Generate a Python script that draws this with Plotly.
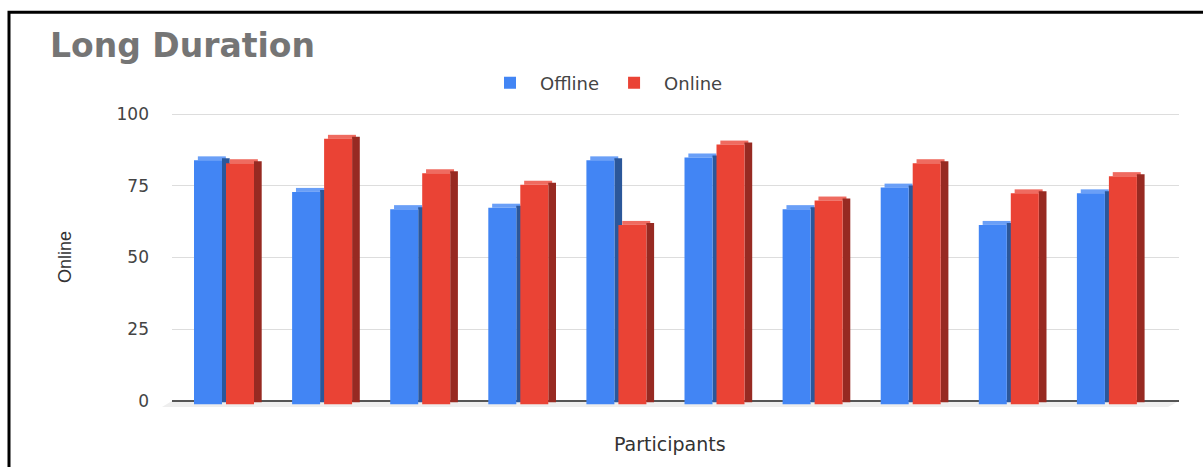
import plotly.graph_objects as go

# ---- data ----
participants = list(range(1, 11))
offline = [85, 74, 68, 68.5, 85, 86, 68, 75.5, 62.5, 73.5]
online = [84, 92.5, 80.5, 76.5, 62.5, 90.5, 71, 84, 73.5, 79.5]
y_ticks = [0, 25, 50, 75, 100]
series_names = ["Offline", "Online"]

# ---- styling constants ----
W, H = 1203, 467
ML, MR, MT, MB = 172, 24, 105, 57
PX_PER_CAT = 98.1
PX_PER_UNIT = 2.87
FRONT_W = 28 / PX_PER_CAT
DEPTH_X = 7.7 / PX_PER_CAT
DEPTH_Y = 4.0 / PX_PER_UNIT
FRONT_BASE = -3.3 / PX_PER_UNIT
OFFSETS = [-30 / PX_PER_CAT, 2 / PX_PER_CAT]
COLORS = {
    "Offline": dict(front="#4285F4", side="#2B579A", top="#6A9FF7"),
    "Online": dict(front="#EA4335", side="#972A22", top="#EF6B60"),
}

pw = W - ML - MR
ph = H - MT - MB
y_lo = -(410 - 401) / PX_PER_UNIT
y_hi = 100 + (114 - MT) / PX_PER_UNIT
x_lo = -(224 - ML) / PX_PER_CAT
x_hi = x_lo + pw / PX_PER_CAT


def px_x(px):
    return (px - ML) / pw


def px_y(py):
    return (H - MB - py) / ph


xs = [p - 1 for p in participants]
fig = go.Figure()
for name, vals, off in zip(series_names, [offline, online], OFFSETS):
    c = COLORS[name]
    # top face
    fig.add_trace(go.Bar(
        x=xs, y=[DEPTH_Y] * len(vals), base=[v + FRONT_BASE for v in vals],
        offset=off + DEPTH_X / 2, width=FRONT_W, marker=dict(color=c["top"], line_width=0),
        showlegend=False, hoverinfo="skip"))
    # side face
    fig.add_trace(go.Bar(
        x=xs, y=vals, base=[FRONT_BASE + DEPTH_Y / 2] * len(vals),
        offset=off + FRONT_W, width=DEPTH_X, marker=dict(color=c["side"], line_width=0),
        showlegend=False, hoverinfo="skip"))
    # front face
    fig.add_trace(go.Bar(
        x=xs, y=vals, base=[FRONT_BASE] * len(vals), name=name,
        offset=off, width=FRONT_W, marker=dict(color=c["front"], line_width=0)))

# floor band
fig.add_shape(type="path", xref="paper", yref="y",
              path=f"M {px_x(172)},0 L {px_x(1179)},0 L {px_x(1168)},{-6 / PX_PER_UNIT} "
                   f"L {px_x(162)},{-6 / PX_PER_UNIT} Z",
              fillcolor="#EEEEEE", line_width=0, layer="below")
# outer frame
fig.add_shape(type="rect", xref="paper", yref="paper",
              x0=px_x(9), x1=px_x(1215), y0=px_y(480), y1=px_y(12.3),
              line=dict(color="black", width=3), fillcolor="rgba(0,0,0,0)")

fig.add_annotation(text="<b>Long Duration</b>", xref="paper", yref="paper",
                   x=px_x(48), y=px_y(46), xanchor="left", yanchor="middle", showarrow=False,
                   font=dict(family="DejaVu Sans", size=33, color="#757575"))
fig.add_annotation(text="Participants", xref="paper", yref="paper",
                   x=px_x(670), y=px_y(444), xanchor="center", yanchor="middle", showarrow=False,
                   font=dict(family="DejaVu Sans", size=19, color="#333333"))
fig.add_annotation(text="Online", xref="paper", yref="paper", textangle=-90,
                   x=px_x(65), y=px_y(257), xanchor="center", yanchor="middle", showarrow=False,
                   font=dict(family="Liberation Sans Narrow, Liberation Sans, sans-serif", size=18,
                             color="#333333"))

fig.update_layout(
    width=W, height=H, margin=dict(l=ML, r=MR, t=MT, b=MB),
    paper_bgcolor="white", plot_bgcolor="white", barmode="overlay",
    legend=dict(orientation="h", x=px_x(604), xanchor="center", y=px_y(83), yanchor="middle",
                font=dict(family="DejaVu Sans", size=18, color="#444444"), itemwidth=50,
                bgcolor="rgba(0,0,0,0)"),
    xaxis=dict(range=[x_lo, x_hi], showticklabels=False, showgrid=False, zeroline=False,
               showline=False, ticks=""),
    yaxis=dict(range=[y_lo, y_hi], tickvals=y_ticks, showgrid=True, gridcolor="#DDDDDD",
               gridwidth=1, zeroline=True, zerolinecolor="#555555", zerolinewidth=1.5,
               showline=False, ticks="", ticklabelstandoff=22,
               tickfont=dict(family="DejaVu Sans", size=17, color="#444444")),
)

fig.write_html("out.html")
